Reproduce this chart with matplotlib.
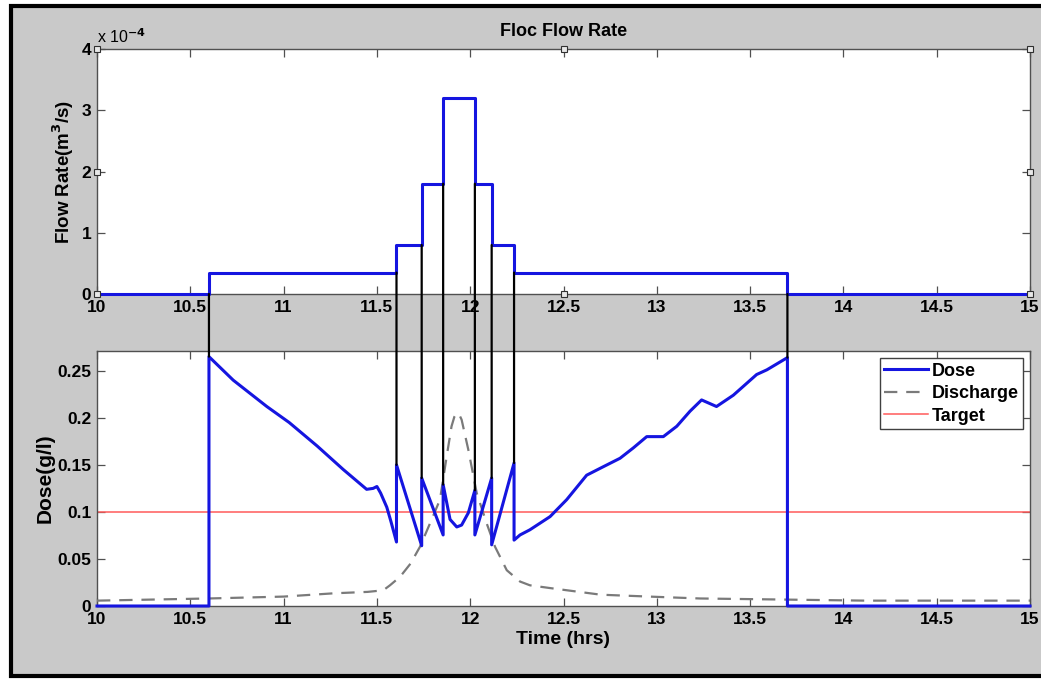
import matplotlib
matplotlib.use("Agg")
import matplotlib.pyplot as plt
import numpy as np
from matplotlib.patches import ConnectionPatch, Rectangle

plt.rcParams["font.family"] = ["Liberation Sans", "DejaVu Sans"]
plt.rcParams["font.weight"] = "bold"

# Floc flow rate, stepwise (units of 1e-4 m^3/s), steps-post
flow_t = [10.0, 10.6, 11.605, 11.74, 11.855, 12.025, 12.115, 12.235, 13.7, 15.0]
flow_e4 = [0.0, 0.35, 0.8, 1.8, 3.2, 1.8, 0.8, 0.35, 0.0, 0.0]

# Dose (g/l); repeated times are the vertical jumps
dose_t = [10.0, 10.6, 10.6, 10.73, 10.91, 11.03, 11.18, 11.32, 11.445, 11.48,
          11.50, 11.52, 11.553, 11.575, 11.605, 11.605, 11.74, 11.74, 11.855,
          11.855, 11.892, 11.928, 11.954, 11.99, 12.025, 12.025, 12.115, 12.115,
          12.235, 12.235, 12.267, 12.32, 12.374, 12.428, 12.517, 12.624, 12.713,
          12.803, 12.874, 12.946, 13.035, 13.107, 13.178, 13.24, 13.32, 13.41,
          13.535, 13.59, 13.7, 13.7, 15.0]
dose = [0.0, 0.0, 0.265, 0.240, 0.212, 0.195, 0.170, 0.145, 0.124, 0.125,
        0.127, 0.120, 0.105, 0.090, 0.068, 0.150, 0.064, 0.136, 0.0755,
        0.129, 0.092, 0.084, 0.086, 0.099, 0.123, 0.0755, 0.136, 0.065,
        0.152, 0.070, 0.0755, 0.081, 0.088, 0.095, 0.113, 0.139, 0.148,
        0.157, 0.168, 0.180, 0.180, 0.191, 0.207, 0.219, 0.212, 0.224,
        0.246, 0.251, 0.264, 0.0, 0.0]

# Discharge (g/l)
disch_t = [10.0, 10.6, 11.0, 11.27, 11.45, 11.50, 11.543, 11.57, 11.624, 11.68,
           11.731, 11.785, 11.838, 11.874, 11.90, 11.915, 11.928, 11.94, 11.954,
           11.99, 12.035, 12.088, 12.133, 12.196, 12.267, 12.32, 12.43, 12.70,
           12.96, 13.23, 14.12, 15.0]
discharge = [0.0057, 0.008, 0.010, 0.0135, 0.015, 0.016, 0.018, 0.022, 0.031,
             0.045, 0.063, 0.088, 0.113, 0.159, 0.191, 0.201, 0.205, 0.204,
             0.198, 0.166, 0.120, 0.088, 0.063, 0.038, 0.026, 0.022, 0.019,
             0.012, 0.010, 0.008, 0.0057, 0.0057]

target_t = [10.0, 15.0]
target = [0.1, 0.1]

x_ticks = [10, 10.5, 11, 11.5, 12, 12.5, 13, 13.5, 14, 14.5, 15]
x_labels = ["10", "10.5", "11", "11.5", "12", "12.5", "13", "13.5", "14", "14.5", "15"]
flow_ticks = [0, 1, 2, 3, 4]
dose_ticks = [0, 0.05, 0.1, 0.15, 0.2, 0.25]
dose_labels = ["0", "0.05", "0.1", "0.15", "0.2", "0.25"]

W, H = 1041, 679
fig = plt.figure(figsize=(W / 100, H / 100), dpi=100)
fig.patch.set_facecolor("white")

# MATLAB-ish gray window with a black frame
fig.add_artist(Rectangle((11 / W, 3 / H), 1.05 - 11 / W, (675 - 5) / H,
                         transform=fig.transFigure, facecolor="#c9c9c9",
                         edgecolor="black", lw=3, zorder=-5))

left, width = 97 / W, 933 / W
ax1 = fig.add_axes([left, 1 - 294 / H, width, 245 / H])
ax2 = fig.add_axes([left, 1 - 606 / H, width, 255 / H])

spine_c = "#505050"
for ax in (ax1, ax2):
    ax.set_facecolor("white")
    for s in ax.spines.values():
        s.set_color(spine_c)
        s.set_linewidth(1.0)
    ax.tick_params(direction="in", top=True, right=True, length=6,
                   width=0.9, color=spine_c, labelsize=12.5, pad=4)
    ax.set_xlim(10, 15)
    ax.set_xticks(x_ticks)
    ax.set_xticklabels(x_labels, fontweight="bold")

# --- top: flow rate
ax1.plot(flow_t, flow_e4, drawstyle="steps-post", color="#1515e0", lw=2.2,
         clip_on=False, zorder=3)
ax1.set_ylim(0, 4)
ax1.set_yticks(flow_ticks)
ax1.set_yticklabels([str(v) for v in flow_ticks], fontweight="bold")
ax1.set_ylabel("Flow Rate(m$^\\mathbf{3}$/s)", fontsize=13.5, fontweight="bold",
               labelpad=4)
ax1.set_title("Floc Flow Rate", fontsize=13, fontweight="bold", pad=9)
ax1.text(0.0, 1.012, "x 10$^{-4}$", transform=ax1.transAxes, ha="left",
         va="bottom", fontsize=11.5, fontweight="normal")

# selection handles on the top axes (corners and edge midpoints)
x0, x1 = ax1.get_xlim()
y0, y1 = ax1.get_ylim()
hx = [x0, x0, x0, (x0 + x1) / 2, x1, x1, x1, (x0 + x1) / 2]
hy = [y0, (y0 + y1) / 2, y1, y1, y1, (y0 + y1) / 2, y0, y0]
ax1.plot(hx, hy, "s", ms=4, mfc="#e8e8e8", mec="#303030", mew=0.8,
         ls="none", clip_on=False, zorder=6)

# --- bottom: dose
ax2.plot(dose_t, dose, color="#1515e0", lw=2.2, label="Dose", clip_on=False,
         zorder=4)
ax2.plot(disch_t, discharge, color="#7a7a7a", lw=1.6, dashes=(6, 4),
         label="Discharge", zorder=3)
ax2.plot(target_t, target, color="#ff5a5a", lw=1.1, label="Target", zorder=2)
ax2.set_ylim(0, 0.271)
ax2.set_yticks(dose_ticks)
ax2.set_yticklabels(dose_labels, fontweight="bold")
ax2.set_ylabel("Dose(g/l)", fontsize=15, fontweight="bold", labelpad=2)
ax2.set_xlabel("Time (hrs)", fontsize=14, fontweight="bold", labelpad=3)

leg = ax2.legend(loc="upper right", fontsize=13, handlelength=2.4,
                 handletextpad=0.2, labelspacing=0.3, borderpad=0.25,
                 borderaxespad=0.4, fancybox=False, framealpha=1)
leg.get_frame().set_edgecolor("#404040")
leg.get_frame().set_linewidth(1.0)
for t in leg.get_texts():
    t.set_fontweight("bold")

# black connectors: each flow step down to the top of its dose jump
t_arr = np.array(dose_t)
d_arr = np.array(dose)
for i in range(1, len(flow_t) - 1):
    t = flow_t[i]
    lo = min(flow_e4[i - 1], flow_e4[i])
    peak = d_arr[np.isclose(t_arr, t)].max()
    con = ConnectionPatch(xyA=(t, lo), coordsA="data", axesA=ax1,
                          xyB=(t, peak), coordsB="data", axesB=ax2,
                          color="black", lw=1.6, zorder=5)
    fig.add_artist(con)

fig.savefig("out.png", dpi=100)
